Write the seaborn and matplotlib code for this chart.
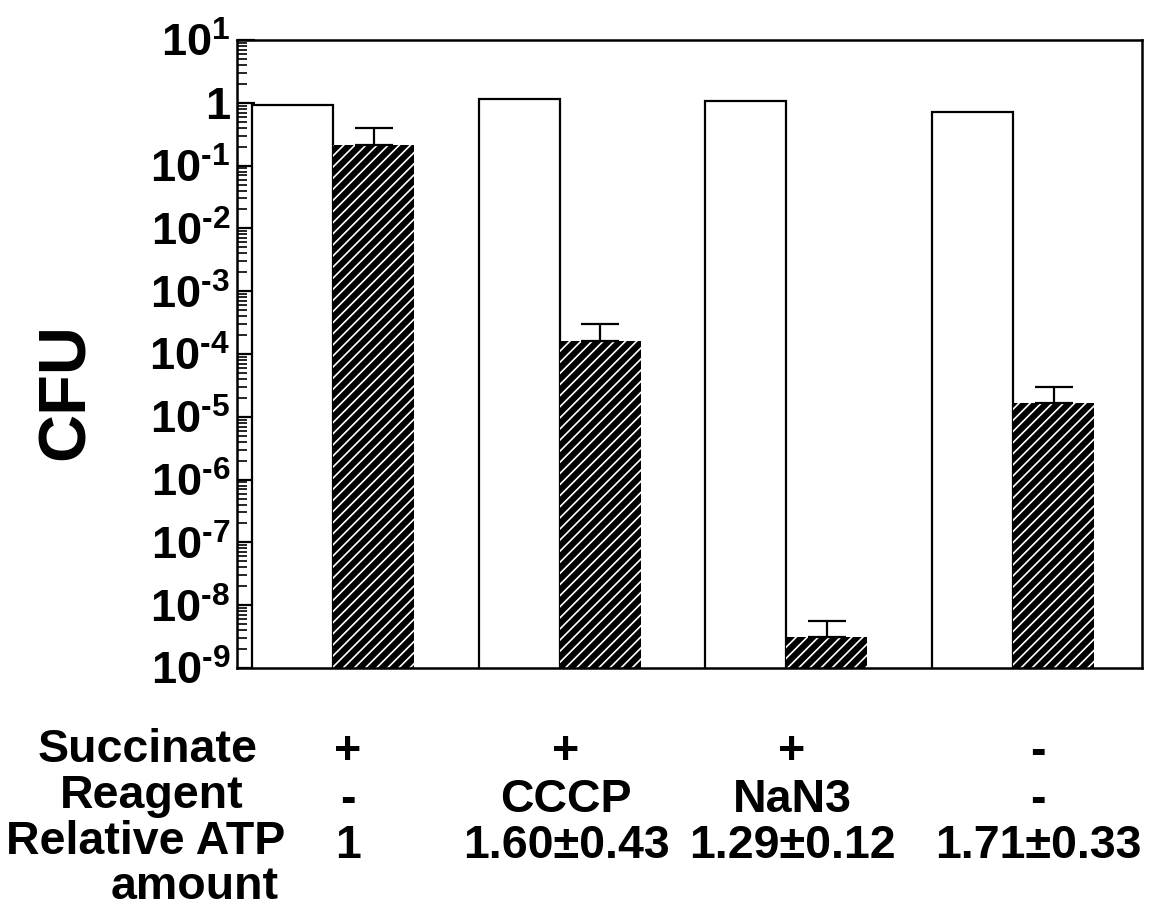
import numpy as np
import pandas as pd
import matplotlib
matplotlib.use("Agg")
import matplotlib.pyplot as plt
import seaborn as sns
from matplotlib.ticker import FixedLocator, LogLocator, NullFormatter

# ---------------- data ----------------
conditions = ["Succ+/none", "Succ+/CCCP", "Succ+/NaN3", "Succ-/none"]
series_names = ["control", "treated"]
control_cfu = [0.92, 1.15, 1.07, 0.71]
treated_cfu = [0.21, 1.6e-4, 3.1e-9, 1.65e-5]
treated_err_top = [0.40, 3.0e-4, 5.6e-9, 3.0e-5]

row_labels = ["Succinate", "Reagent", "Relative ATP", "amount"]
succinate_row = ["+", "+", "+", "-"]
reagent_row = ["-", "CCCP", "NaN3", "-"]
atp_row = ["1", "1.60\u00b10.43", "1.29\u00b10.12", "1.71\u00b10.33"]

ytick_values = [1e-9, 1e-8, 1e-7, 1e-6, 1e-5, 1e-4, 1e-3, 1e-2, 1e-1, 1, 10]
ytick_labels = ["$10^{\u20109}$", "$10^{\u20108}$", "$10^{\u20107}$", "$10^{\u20106}$",
                "$10^{\u20105}$", "$10^{\u20104}$", "$10^{\u20103}$", "$10^{\u20102}$",
                "$10^{\u20101}$", "1", "$10^{1}$"]

df = pd.DataFrame({
    "condition": conditions * 2,
    "series": [series_names[0]] * 4 + [series_names[1]] * 4,
    "cfu": control_cfu + treated_cfu,
})

# ---------------- style ----------------
sns.set_style("white")
plt.rcParams["font.family"] = ["Liberation Sans", "DejaVu Sans"]
plt.rcParams["font.weight"] = "bold"
plt.rcParams["text.color"] = "black"
plt.rcParams["axes.labelcolor"] = "black"
plt.rcParams["mathtext.fontset"] = "custom"
plt.rcParams["mathtext.rm"] = "Liberation Sans:bold"
plt.rcParams["mathtext.bf"] = "Liberation Sans:bold"
plt.rcParams["mathtext.default"] = "bf"
plt.rcParams["hatch.linewidth"] = 1.2
plt.rcParams["axes.edgecolor"] = "black"

W, H = 1166, 909
fig = plt.figure(figsize=(W / 100, H / 100), dpi=100)
ax_left, ax_right, ax_top, ax_bot = 237, 1142, 40, 668
ax = fig.add_axes([ax_left / W, 1 - ax_bot / H, (ax_right - ax_left) / W, (ax_bot - ax_top) / H])

sns.barplot(data=df, x="condition", y="cfu", hue="series", order=conditions,
            hue_order=series_names, palette={"control": "white", "treated": "black"},
            saturation=1, width=0.715, gap=0, errorbar=None, legend=False,
            edgecolor="black", linewidth=1.6, ax=ax)
ax.set_yscale("log")

# hatch the treated bars: black fill with white diagonal lines
for p in ax.containers[1]:
    p.set_hatch("///")
    p.set_edgecolor("white")
    p.set_linewidth(0)

# upper error bars only
xs = [p.get_x() + p.get_width() / 2 for p in ax.containers[1]]
upper = np.array(treated_err_top) - np.array(treated_cfu)
ax.errorbar(xs, treated_cfu, yerr=[np.zeros(len(upper)), upper], fmt="none",
            ecolor="black", elinewidth=1.6, capsize=14, capthick=1.6, zorder=5)

ax.set_ylim(1e-9, 10)
ax.set_xlim(-0.4235, 3.569)
ax.set_xticks([])
ax.set_xlabel("")
ax.yaxis.set_major_locator(FixedLocator(ytick_values))
ax.set_yticklabels(ytick_labels)
ax.yaxis.set_minor_locator(LogLocator(base=10, subs=np.arange(2, 10), numticks=30))
ax.yaxis.set_minor_formatter(NullFormatter())
ax.tick_params(axis="y", which="major", direction="in", length=13, width=1.6,
               labelsize=32.5, pad=5, left=True, color="black", labelcolor="black")
ax.tick_params(axis="y", which="minor", direction="in", length=7, width=1.2,
               left=True, color="black")
for s in ax.spines.values():
    s.set_linewidth(1.8)
    s.set_color("black")

ax.set_ylabel("CFU", fontsize=48, fontweight="bold", color="black", va="center")
ax.yaxis.set_label_coords(-0.188, 0.44)

# ---------------- table under the chart ----------------
fs = 33.5
def fy(px):
    return 1 - px / H

label_x = [148, 152, 146, 195]
label_base = [762, 808, 854, 899]
for txt, x, y in zip(row_labels, label_x, label_base):
    fig.text(x / W, fy(y), txt, ha="center", va="baseline", fontsize=fs, fontweight="bold")

col_x = [348, 566, 792, 1038]
value_base = [764, 812, 858]
for row, y in zip([succinate_row, reagent_row, atp_row], value_base):
    for txt, x in zip(row, col_x):
        fig.text(x / W, fy(y), txt, ha="center", va="baseline", fontsize=fs, fontweight="bold")

fig.savefig("out.png", dpi=100)
